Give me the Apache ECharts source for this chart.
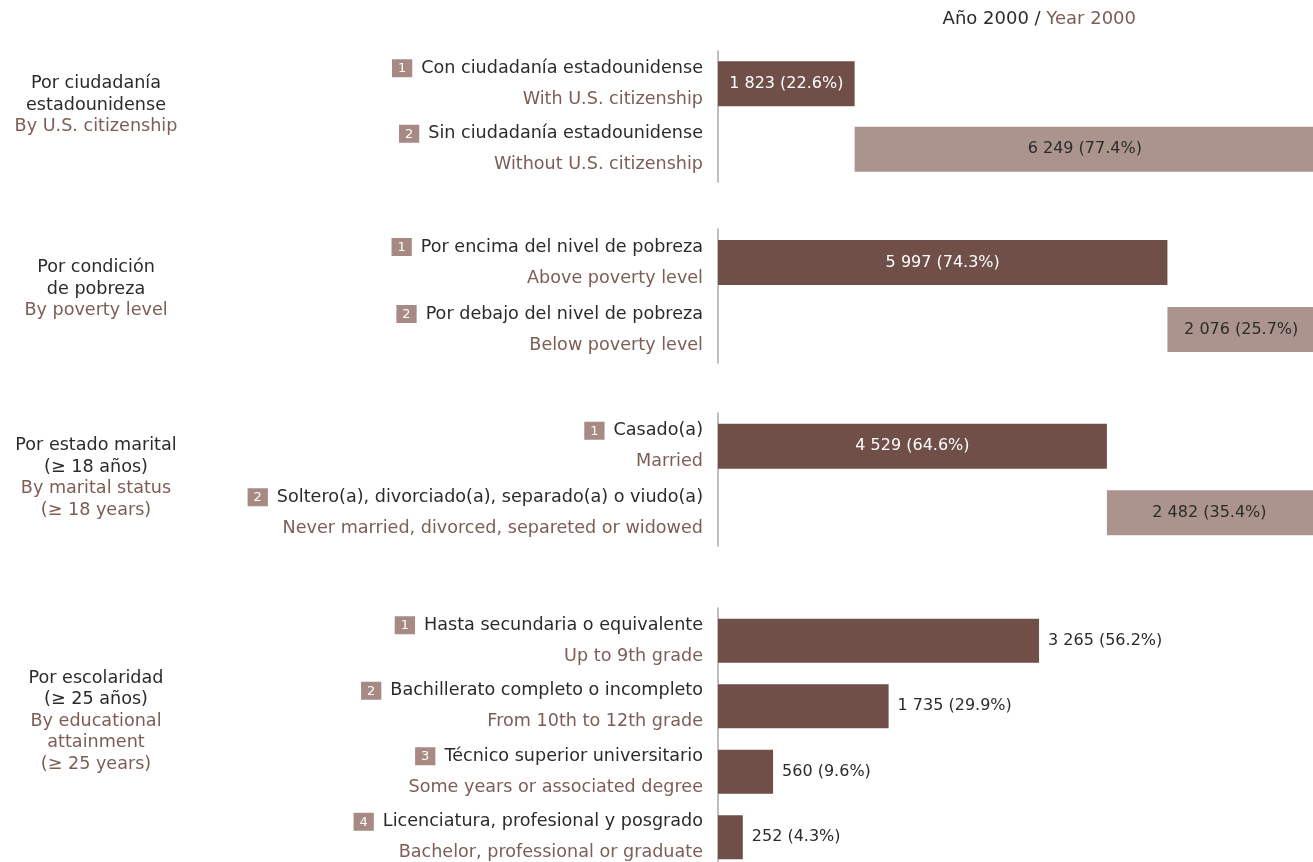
<!DOCTYPE html>
<html><head><meta charset="utf-8">
<script src="https://cdn.jsdelivr.net/npm/echarts@6/dist/echarts.min.js"></script>
<style>html,body{margin:0;padding:0;background:#fff}#c{width:1313px;height:862px}</style>
</head><body><div id="c"></div>
<script>
// ---------- data ----------
const headerEs = 'Año 2000 / ';
const headerEn = 'Year 2000';

const groupTitlesEs = [['Por ciudadanía', 'estadounidense'], ['Por condición', 'de pobreza'], ['Por estado marital', '(≥ 18 años)'], ['Por escolaridad', '(≥ 25 años)']];
const groupTitlesEn = [['By U.S. citizenship'], ['By poverty level'], ['By marital status', '(≥ 18 years)'], ['By educational', 'attainment', '(≥ 25 years)']];

const catsEs1 = ['Con ciudadanía estadounidense', 'Sin ciudadanía estadounidense'];
const catsEn1 = ['With U.S. citizenship', 'Without U.S. citizenship'];
const vals1 = [1823, 6249];
const pct1 = [22.6, 77.4];

const catsEs2 = ['Por encima del nivel de pobreza', 'Por debajo del nivel de pobreza'];
const catsEn2 = ['Above poverty level', 'Below poverty level'];
const vals2 = [5997, 2076];
const pct2 = [74.3, 25.7];

const catsEs3 = ['Casado(a)', 'Soltero(a), divorciado(a), separado(a) o viudo(a)'];
const catsEn3 = ['Married', 'Never married, divorced, separeted or widowed'];
const vals3 = [4529, 2482];
const pct3 = [64.6, 35.4];

const catsEs4 = ['Hasta secundaria o equivalente', 'Bachillerato completo o incompleto', 'Técnico superior universitario', 'Licenciatura, profesional y posgrado'];
const catsEn4 = ['Up to 9th grade', 'From 10th to 12th grade', 'Some years or associated degree', 'Bachelor, professional or graduate'];
const vals4 = [3265, 1735, 560, 252];
const pct4 = [56.2, 29.9, 9.6, 4.3];

// ---------- style ----------
const FONT = 'DejaVu Sans';
const FS = 17.6;
const DARK = '#6f4f47';
const LIGHT = '#aa948d';
const BADGE = '#a68a83';
const TXT = '#2b2b2b';
const BROWN = '#7d5d55';

const groups = [
  {es: catsEs1, en: catsEn1, v: vals1, p: pct1, waterfall: true, top: 51, height: 131, width: 605, max: 8072, barW: 45},
  {es: catsEs2, en: catsEn2, v: vals2, p: pct2, waterfall: true, top: 229, height: 134, width: 605, max: 8073, barW: 45},
  {es: catsEs3, en: catsEn3, v: vals3, p: pct3, waterfall: true, top: 413, height: 133, width: 602, max: 7011, barW: 45},
  {es: catsEs4, en: catsEn4, v: vals4, p: pct4, waterfall: false, top: 608, height: 262, width: 590, max: 6000, barW: 44}
];
const titlePos = [[96, 105], [96, 289], [96, 478], [96, 721]];

function fmt(n) { return String(n).replace(/\B(?=(\d{3})+(?!\d))/g, ' '); }

const grid = [], xAxis = [], yAxis = [], series = [];
groups.forEach((g, gi) => {
  grid.push({left: 718, top: g.top, width: g.width, height: g.height, containLabel: false, outerBoundsMode: 'none'});
  xAxis.push({type: 'value', gridIndex: gi, min: 0, max: g.max, show: false});
  yAxis.push({
    type: 'category', gridIndex: gi, inverse: true, data: g.es,
    axisTick: {show: false},
    axisLine: {show: true, lineStyle: {color: '#a9a9a9', width: 1.5}},
    axisLabel: {
      margin: 15, fontFamily: FONT,
      formatter: (val, idx) => '{b|' + (idx + 1) + '}{es|' + g.es[idx] + '}\n{en|' + g.en[idx] + '}',
      rich: {
        b: {backgroundColor: BADGE, color: '#fff', fontSize: 13, fontFamily: FONT, padding: [3, 6, 2, 6], lineHeight: 14},
        es: {color: TXT, fontSize: FS, fontFamily: FONT, lineHeight: 31, padding: [0, 0, 0, 9]},
        en: {color: BROWN, fontSize: FS, fontFamily: FONT, lineHeight: 31}
      }
    }
  });
  const labelFmt = (p) => fmt(g.v[p.dataIndex]) + ' (' + g.p[p.dataIndex].toFixed(1) + '%)';
  if (g.waterfall) {
    const base = g.v.map((v, i) => g.v.slice(0, i).reduce((a, b) => a + b, 0));
    series.push({type: 'bar', xAxisIndex: gi, yAxisIndex: gi, stack: 's' + gi, data: base, barWidth: g.barW,
      itemStyle: {color: 'transparent'}, silent: true, label: {show: false}});
    series.push({type: 'bar', xAxisIndex: gi, yAxisIndex: gi, stack: 's' + gi, barWidth: g.barW,
      data: g.v.map((v, i) => ({value: v, itemStyle: {color: i === 0 ? DARK : LIGHT},
        label: {color: i === 0 ? '#fff' : TXT, offset: i === 0 ? [0, 0] : [-4, 0]}})),
      label: {show: true, position: 'inside', fontFamily: FONT, fontSize: 16, formatter: labelFmt}});
  } else {
    series.push({type: 'bar', xAxisIndex: gi, yAxisIndex: gi, barWidth: g.barW,
      data: g.v.slice(), itemStyle: {color: DARK},
      label: {show: true, position: 'right', distance: 9, color: TXT, fontFamily: FONT, fontSize: 16, formatter: labelFmt}});
  }
});

const graphic = [{
  type: 'text', x: 1136, y: 19,
  style: {text: '{a|' + headerEs + '}{b|' + headerEn + '}', verticalAlign: 'middle', align: 'right',
    rich: {a: {fill: TXT, fontSize: 18, fontFamily: FONT}, b: {fill: BROWN, fontSize: 18, fontFamily: FONT}}}
}];
groupTitlesEs.forEach((es, i) => {
  const lines = es.map(s => '{a|' + s + '}').concat(groupTitlesEn[i].map(s => '{b|' + s + '}'));
  graphic.push({type: 'text', x: titlePos[i][0], y: titlePos[i][1],
    style: {text: lines.join('\n'), align: 'center', verticalAlign: 'middle',
      rich: {a: {fill: TXT, fontSize: FS, fontFamily: FONT, lineHeight: 21.5, align: 'center'},
             b: {fill: BROWN, fontSize: FS, fontFamily: FONT, lineHeight: 21.5, align: 'center'}}}});
});

const chart = echarts.init(document.getElementById('c'), null, {renderer: 'canvas'});
chart.setOption({animation: false, backgroundColor: '#fff', grid, xAxis, yAxis, series, graphic});
</script></body></html>
